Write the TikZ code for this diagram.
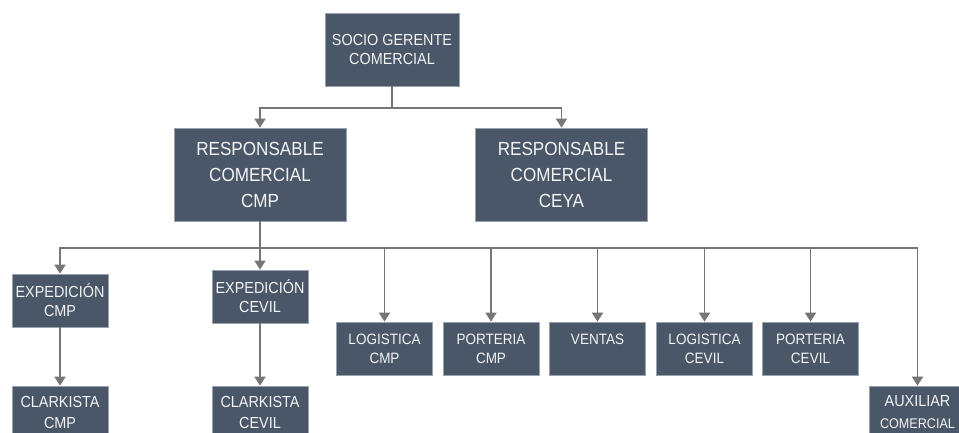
\documentclass[tikz,border=0pt]{standalone}
\usepackage{fontspec}
\setmainfont{Liberation Sans}
\newfontfamily\boxfont[FakeStretch=0.9]{Liberation Sans}
\usetikzlibrary{arrows.meta}
\definecolor{boxfill}{HTML}{4A5768}
\definecolor{boxedge}{HTML}{9AA3AD}
\definecolor{linkgray}{HTML}{767676}
\definecolor{boxtext}{HTML}{F4F4F4}
\newcommand{\fs}[2]{\fontsize{#1}{#2}\selectfont}
\tikzset{
  orgbox/.style={draw=boxedge, line width=0.8pt, fill=boxfill, text=boxtext,
    align=center, inner sep=0pt},
  bigbox/.style={orgbox, minimum width=172, minimum height=93, font=\boxfont\fs{19}{26}},
  topbox/.style={orgbox, minimum width=134, minimum height=73, font=\boxfont\fs{16}{19}},
  smallbox/.style={orgbox, minimum width=96, minimum height=53, font=\boxfont\fs{16}{19}},
  deptbox/.style={orgbox, minimum width=96, minimum height=53, font=\boxfont\fs{15}{19}},
  link/.style={draw=linkgray, line width=1.8pt},
  linkarrow/.style={link, -{Triangle[length=9pt,width=11pt]}},
}
\begin{document}
\begin{tikzpicture}[x=1pt, y=-1pt]
  \clip (0,0) rectangle (959,432);
  \fill[white] (0,0) rectangle (959,432);

  % top level
  \node[topbox] (socio) at (392,49.5) {SOCIO GERENTE\\COMERCIAL};

  % commercial managers
  \node[bigbox] (rcmp) at (260,174.5) {RESPONSABLE\\COMERCIAL\\CMP};
  \node[bigbox] (rceya) at (561.5,174.5) {RESPONSABLE\\COMERCIAL\\CEYA};

  % departments under CMP
  \node[smallbox] (expcmp) at (60,300.5) {EXPEDICIÓN\\CMP};
  \node[smallbox] (expcevil) at (260,296.5) {EXPEDICIÓN\\CEVIL};
  \node[deptbox] (logcmp) at (384.5,348.5) {LOGISTICA\\CMP};
  \node[deptbox] (portcmp) at (491,348.5) {PORTERIA\\CMP};
  \node[deptbox] (ventas) at (597.5,348.5) {VENTAS\\\phantom{CMP}};
  \node[deptbox] (logcevil) at (704.5,348.5) {LOGISTICA\\CEVIL};
  \node[deptbox] (portcevil) at (810.5,348.5) {PORTERIA\\CEVIL};
  \node[smallbox, font=\boxfont\fs{16}{22}] (aux) at (917.5,412.5)
    {AUXILIAR\\\fs{14}{18}COMERCIAL};

  % forklift operators
  \node[smallbox, font=\boxfont\fs{16}{21}] (clkcmp) at (60,412.5) {CLARKISTA\\CMP};
  \node[smallbox, font=\boxfont\fs{16}{21}] (clkcevil) at (260,412.5) {CLARKISTA\\CEVIL};

  % bus lines
  \coordinate (bus1) at (392,108);
  \coordinate (bus2) at (260,248);

  \draw[link] (socio.south) -- (bus1);
  \draw[linkarrow] (bus1) -| (rcmp);
  \draw[linkarrow] (bus1) -| (rceya);

  \draw[link] (rcmp.south) -- (bus2);
  \foreach \n in {expcmp, expcevil, logcmp, portcmp, ventas, logcevil, portcevil, aux}
    \draw[linkarrow] (bus2) -| (\n);

  \draw[linkarrow] (expcmp) -- (clkcmp);
  \draw[linkarrow] (expcevil) -- (clkcevil);
\end{tikzpicture}
\end{document}
